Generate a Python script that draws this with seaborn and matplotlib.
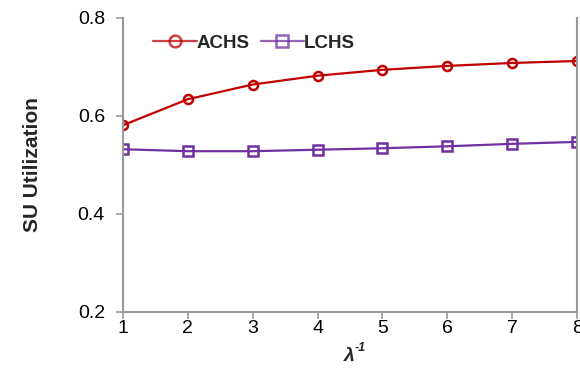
import matplotlib
matplotlib.use("Agg")
import matplotlib.pyplot as plt
import seaborn as sns
import pandas as pd

# data
lam_inv = [1, 2, 3, 4, 5, 6, 7, 8]
achs = [0.581, 0.634, 0.664, 0.682, 0.694, 0.702, 0.708, 0.712]
lchs = [0.532, 0.528, 0.528, 0.531, 0.534, 0.538, 0.543, 0.547]

df = pd.DataFrame({"x": lam_inv * 2,
                   "y": achs + lchs,
                   "scheme": ["ACHS"] * len(achs) + ["LCHS"] * len(lchs)})

sns.set_style("white")
plt.rcParams['font.family'] = ['Liberation Sans', 'DejaVu Sans']

fig = plt.figure(figsize=(5.8, 3.8), dpi=100)
ax = fig.add_axes([0.212, 0.179, 0.783, 0.774])

palette = {"ACHS": "#C00000", "LCHS": "#7030A0"}
sns.lineplot(data=df, x="x", y="y", hue="scheme", style="scheme",
             palette=palette, markers={"ACHS": "o", "LCHS": "s"}, dashes=False,
             markeredgewidth=1.8, markersize=6.5, linewidth=1.6, ax=ax)
for line in ax.lines:
    line.set_markeredgecolor(line.get_color())
    line.set_markerfacecolor("none")

ax.set_xlim(1, 8)
ax.set_ylim(0.2, 0.8)
ax.set_xticks(lam_inv)
ax.set_yticks([0.2, 0.4, 0.6, 0.8])
ax.set_yticklabels(["0.2", "0.4", "0.6", "0.8"])

for side in ["left", "bottom", "right"]:
    ax.spines[side].set_color("#999999")
    ax.spines[side].set_linewidth(1.5)
ax.spines["top"].set_visible(False)

ax.tick_params(axis="both", labelsize=14, colors="#999999", labelcolor="black",
               length=5, width=1.2, direction="out", left=True, bottom=True)
ax.tick_params(axis="x", pad=1)
ax.tick_params(axis="y", pad=8)

ax.set_ylabel("SU Utilization", fontsize=15, fontweight="bold", labelpad=26)
ax.set_xlabel("")
fig.text(0.602, 0.062, "λ", fontsize=14, fontweight="bold", style="italic",
         ha="center", va="center")
fig.text(0.612, 0.085, "-1", fontsize=9, fontweight="bold", style="italic",
         ha="left", va="center")

leg = ax.legend(loc="upper left", frameon=False, ncol=2, fontsize=13.5,
                handlelength=2.3, columnspacing=0.6, handletextpad=0.0,
                markerscale=1.3, bbox_to_anchor=(0.03, 1.0))
for t in leg.get_texts():
    t.set_fontweight("bold")
for h in leg.legend_handles:
    h.set_markerfacecolor("none")
    h.set_markeredgecolor(h.get_color())
    h.set_alpha(0.75)

fig.savefig("out.png", dpi=100)
